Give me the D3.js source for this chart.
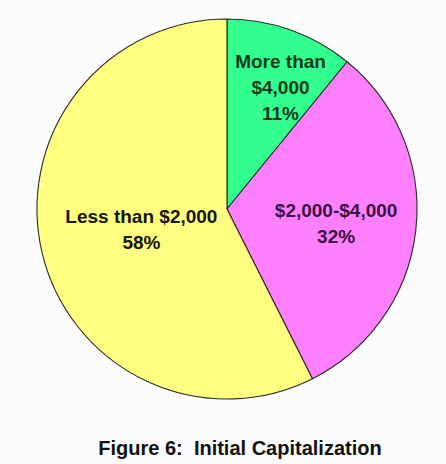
<!DOCTYPE html>
<html>
<head>
<meta charset="utf-8">
<script src="https://cdn.jsdelivr.net/npm/d3@7"></script>
<style>
  html, body { margin: 0; padding: 0; background: #fcfcfc; }
  svg { display: block; }
  text { font-family: "Liberation Sans", Arial, Helvetica, sans-serif; font-weight: bold; }
</style>
</head>
<body>
<svg id="chart" width="446" height="464"></svg>
<script>
// Initial capitalization shares (percent)
const categories = ["More than $4,000", "$2,000-$4,000", "Less than $2,000"];
const labelLines = [["More than", "$4,000"], ["$2,000-$4,000"], ["Less than $2,000"]];
const values = [11, 32, 58];
const title = "Figure 6:  Initial Capitalization";

// Appearance
const fills = ["#33ff8f", "#ff80ff", "#ffff80"];
const inks = ["#0f3a1c", "#3a1040", "#151508"];
const labelNudge = [[14, -11], [-8, 2], [29, -7]];
const lineHeight = 26;

const W = 446, H = 464;
const cx = 227, cy = 209, R = 190;

const svg = d3.select("#chart");
const g = svg.append("g").attr("transform", `translate(${cx},${cy})`);

const pie = d3.pie().sort(null).value(d => d.value);
const data = pie(categories.map((c, i) => ({ name: c, value: values[i], i })));

const arc = d3.arc().innerRadius(0).outerRadius(R);
const labelArc = d3.arc().innerRadius(R * 0.62).outerRadius(R * 0.62);

g.selectAll("path.slice")
  .data(data)
  .join("path")
  .attr("class", "slice")
  .attr("d", arc)
  .attr("fill", d => fills[d.data.i])
  .attr("stroke", "#2a2a2a")
  .attr("stroke-width", 1.1)
  .attr("stroke-linejoin", "round");

const labels = g.selectAll("text.label")
  .data(data)
  .join("text")
  .attr("class", "label")
  .attr("text-anchor", "middle")
  .attr("font-size", 19)
  .attr("fill", d => inks[d.data.i])
  .attr("transform", d => {
    const [x, y] = labelArc.centroid(d);
    const [nx, ny] = labelNudge[d.data.i];
    return `translate(${x + nx},${y + ny})`;
  });

labels.each(function (d) {
  const lines = labelLines[d.data.i].concat([d3.format("d")(d.data.value) + "%"]);
  const n = lines.length;
  d3.select(this).selectAll("tspan")
    .data(lines)
    .join("tspan")
    .attr("x", 0)
    .attr("y", (t, k) => (k - (n - 1) / 2) * lineHeight)
    .attr("dy", "0.35em")
    .text(t => t);
});

svg.append("text")
  .attr("x", 240)
  .attr("y", 455)
  .attr("text-anchor", "middle")
  .attr("font-size", 20)
  .attr("fill", "#111")
  .style("white-space", "pre")
  .text(title);
</script>
</body>
</html>
